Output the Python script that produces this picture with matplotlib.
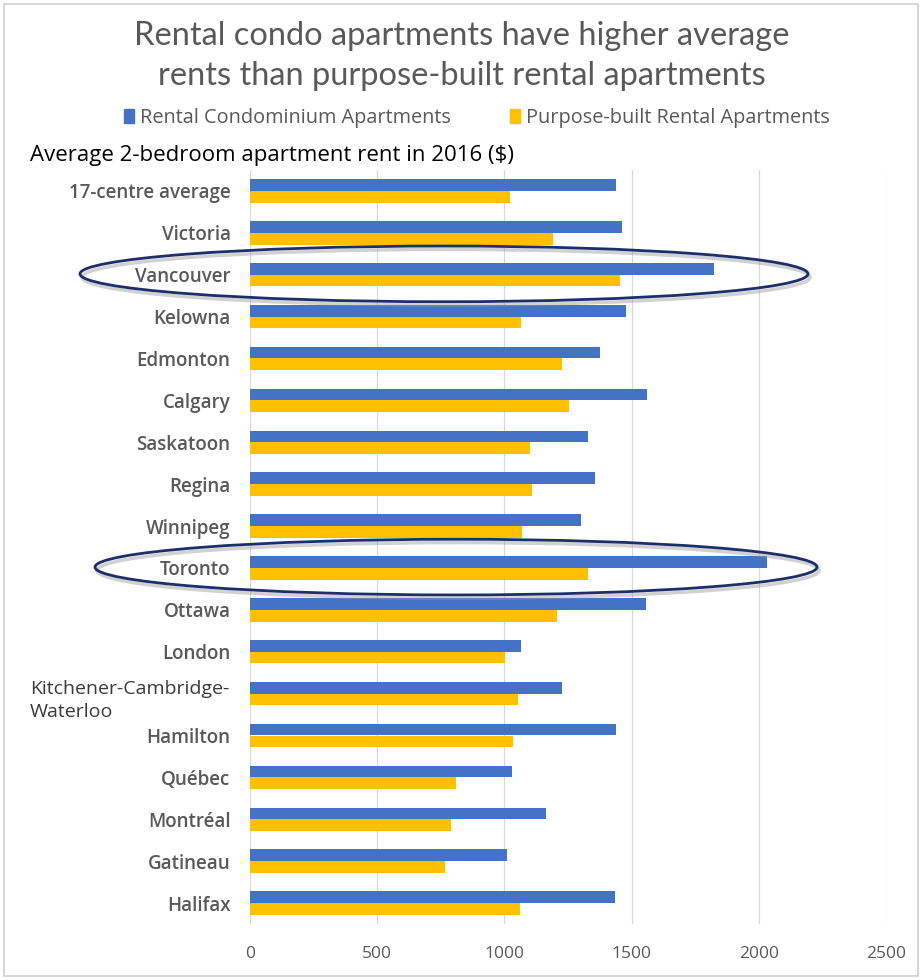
import matplotlib
matplotlib.use("Agg")
import matplotlib.pyplot as plt
import matplotlib.transforms as mtransforms
from matplotlib.patches import Ellipse, Rectangle, Patch
import numpy as np

# Average 2-bedroom rent in 2016 ($), top to bottom
centres = [
    "17-centre average", "Victoria", "Vancouver", "Kelowna", "Edmonton",
    "Calgary", "Saskatoon", "Regina", "Winnipeg", "Toronto", "Ottawa",
    "London", "Kitchener-Cambridge-\nWaterloo", "Hamilton", "Québec",
    "Montréal", "Gatineau", "Halifax",
]
condo_rent = [1437, 1463, 1823, 1479, 1376, 1562, 1328, 1358, 1301, 2033,
              1555, 1066, 1228, 1439, 1031, 1162, 1009, 1435]
purpose_built_rent = [1023, 1190, 1453, 1064, 1226, 1255, 1100, 1109, 1070,
                      1330, 1207, 1003, 1053, 1035, 809, 790, 766, 1062]
x_ticks = [0, 500, 1000, 1500, 2000, 2500]
highlighted = ["Vancouver", "Toronto"]

BLUE = "#4472C4"
GOLD = "#FFC000"
GREY = "#595959"
NAVY = "#1B2F6B"

W, H = 924, 980
fig = plt.figure(figsize=(W / 100, H / 100), dpi=100)
fig.patch.set_facecolor("white")

ax = fig.add_axes([250 / W, 56 / H, (886 - 250) / W, (924 - 170) / H])
pos = np.arange(len(centres))
bh = 0.28
ax.barh(pos - bh / 2, condo_rent, height=bh, color=BLUE, zorder=3)
ax.barh(pos + bh / 2, purpose_built_rent, height=bh, color=GOLD, zorder=3)

ax.set_xlim(0, 2500)
ax.set_ylim(len(centres) - 0.5, -0.5)
ax.set_xticks(x_ticks)
ax.set_xticklabels([str(t) for t in x_ticks], fontsize=12.5, color=GREY,
                   family="Open Sans")
ax.tick_params(axis="x", length=0, pad=16)
ax.tick_params(axis="y", length=0, pad=14)
ax.grid(axis="x", color="#D9D9D9", linewidth=0.9, zorder=0)
for s in ax.spines.values():
    s.set_visible(False)

ylabels = [c if "\n" not in c else "" for c in centres]
ax.set_yticks(pos)
ax.set_yticklabels(ylabels, fontsize=13.5, color=GREY, family="Open Sans",
                   fontweight="semibold")

fig_x_data_y = mtransforms.blended_transform_factory(fig.transFigure,
                                                     ax.transData)

# two-line label sits flush left in the margin
k = next(i for i, c in enumerate(centres) if "\n" in c)
ax.text(30 / W, k + 0.17, centres[k], transform=fig_x_data_y,
        fontsize=14, color="#3A3A3A", family="Open Sans", ha="left",
        va="center", linespacing=1.35)

# ellipses around highlighted centres, with a soft offset shadow
for name, (x0, x1) in zip(highlighted, [(80, 808), (95, 817)]):
    i = centres.index(name)
    cx, w = (x0 + x1) / 2 / W, (x1 - x0) / W
    shadow = Ellipse((cx + 2 / W, i + 0.06), w, 1.33,
                     transform=fig_x_data_y, fill=False,
                     edgecolor="#9A9A9A", linewidth=2.5, alpha=0.45,
                     clip_on=False, zorder=4)
    ring = Ellipse((cx, i - 0.02), w, 1.33, transform=fig_x_data_y,
                   fill=False, edgecolor=NAVY, linewidth=2.0,
                   clip_on=False, zorder=5)
    ax.add_patch(shadow)
    ax.add_patch(ring)

# title, legend, subtitle
fig.text(0.5, 1 - 36 / H, "Rental condo apartments have higher average",
         ha="center", va="center", fontsize=23.5, color=GREY, family="Lato")
fig.text(0.5, 1 - 76 / H, "rents than purpose-built rental apartments",
         ha="center", va="center", fontsize=23.5, color=GREY, family="Lato")
handles = [Patch(color=BLUE, label="Rental Condominium Apartments"),
           Patch(color=GOLD, label="Purpose-built Rental Apartments")]
fig.legend(handles=handles, loc="center",
           bbox_to_anchor=(0.5 + 15 / W, 1 - 118 / H),
           ncol=2, frameon=False, labelcolor=GREY,
           handlelength=0.5, handleheight=0.75, handletextpad=0.3,
           columnspacing=3.0, prop={"family": "Open Sans", "size": 14.3})
fig.text(30 / W, 1 - 155 / H, "Average 2-bedroom apartment rent in 2016 ($)",
         ha="left", va="center", fontsize=16, color="black",
         family="Open Sans")

# outer frame
fig.patches.append(Rectangle((4 / W, 4 / H), 914 / W, 972 / H,
                             transform=fig.transFigure, fill=False,
                             edgecolor="#D0D0D0", linewidth=1.2))

fig.savefig("out.png", dpi=100, facecolor="white")
